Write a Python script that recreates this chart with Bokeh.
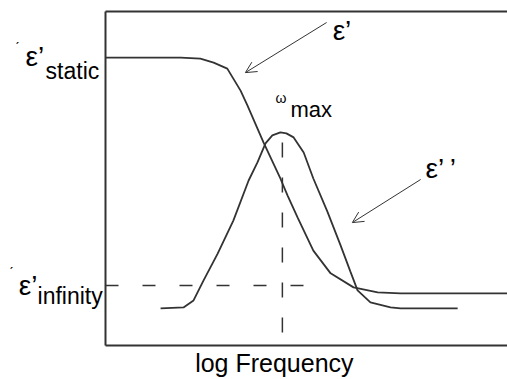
from bokeh.plotting import figure
from bokeh.models import Range1d, Label, Arrow, OpenHead
from bokeh.embed import file_html
from bokeh.resources import INLINE

# ---- data (schematic Debye relaxation, arbitrary units) ----
# eps' (real part): log frequency vs permittivity
eps_real_x = [0.00, 1.12, 1.87, 2.36, 2.69, 3.03, 3.18, 3.36, 3.53, 3.93, 4.35, 4.53,
              4.78, 5.17, 5.60, 6.17, 6.77, 7.34, 8.58, 10.0]
eps_real_y = [8.62, 8.62, 8.62, 8.59, 8.47, 8.29, 7.99, 7.63, 7.19, 6.08, 5.00, 4.49,
              3.83, 2.84, 2.16, 1.74, 1.59, 1.56, 1.56, 1.56]
# eps'' (imaginary part / loss)
eps_imag_x = [1.37, 1.94, 2.19, 2.44, 2.79, 3.18, 3.56, 3.78, 3.98, 4.15, 4.35, 4.50,
              4.68, 4.93, 5.17, 5.52, 5.85, 6.09, 6.27, 6.59, 7.09, 7.34, 8.76]
eps_imag_y = [1.11, 1.14, 1.35, 1.95, 2.75, 3.74, 4.94, 5.48, 6.05, 6.29, 6.38, 6.35,
              6.23, 5.78, 5.00, 4.01, 2.99, 2.22, 1.65, 1.29, 1.14, 1.11, 1.11]

eps_inf_level = 1.80          # dashed eps'_infinity level
eps_inf_dash_end = 5.05       # where the horizontal dashed line stops
omega_max_x = 4.40            # vertical dashed line at omega_max
omega_dash_y = [0.39, 6.14]   # extent of the vertical dashed line

# plot box (axes frame) in data units
box_x = [0, 10]
box_y = [0, 10]

FONT = "Liberation Sans"
INK = "#333333"

p = figure(width=507, height=379, output_backend="svg", toolbar_location=None,
           x_range=Range1d(-2.612, 10.0), y_range=Range1d(-1.018, 10.329),
           x_axis_type=None, y_axis_type=None,
           min_border_left=0, min_border_right=0, min_border_top=0, min_border_bottom=0)
p.outline_line_color = None
p.grid.visible = False
p.background_fill_color = "white"
p.border_fill_color = "white"

# axes box: left, top, bottom
p.line([box_x[0], box_x[0]], box_y, line_width=2, line_color=INK)
p.line(box_x, [box_y[1], box_y[1]], line_width=2, line_color=INK)
p.line(box_x, [box_y[0], box_y[0]], line_width=2, line_color=INK)

# curves
p.line(eps_real_x, eps_real_y, line_width=1.8, line_color=INK)
p.line(eps_imag_x, eps_imag_y, line_width=1.8, line_color=INK)

# dashed guide lines
p.line([0, eps_inf_dash_end], [eps_inf_level, eps_inf_level], line_width=1.5,
       line_color=INK, line_dash="13 24")
p.line([omega_max_x, omega_max_x], omega_dash_y, line_width=1.5,
       line_color=INK, line_dash="15 20")

# arrows
p.add_layout(Arrow(x_start=5.50, y_start=9.67, x_end=3.48, y_end=8.17,
                   line_width=1, line_color=INK,
                   end=OpenHead(size=11, line_width=1, line_color=INK)))
p.add_layout(Arrow(x_start=7.84, y_start=4.97, x_end=6.14, y_end=3.68,
                   line_width=1, line_color=INK,
                   end=OpenHead(size=11, line_width=1, line_color=INK)))

DY = 0.21  # baseline correction

def lab(text, x, y, size, align="left"):
    p.add_layout(Label(x=x, y=y + DY, text=text, text_font=FONT, text_font_size=size,
                       text_color="black", text_align=align, text_baseline="alphabetic"))

# left labels
lab("ˊ", -2.25, 8.70, "14px")
lab("ε’", -1.99, 8.44, "28px")
lab("static", -1.49, 8.02, "23px")
lab("ˊ", -2.40, 1.95, "14px")
lab("ε’", -2.16, 1.59, "28px")
lab("infinity", -1.69, 1.26, "23px")

# omega_max
lab("ω", 4.23, 7.19, "14px")
lab("max", 4.60, 6.86, "22px")

# curve names
lab("ε’", 5.65, 9.22, "28px")
lab("ε’\u2009’", 7.96, 5.09, "28px")

# x label
lab("log Frequency", 4.20, -0.74, "25px", align="center")

open("out.html", "w").write(file_html(p, INLINE))
